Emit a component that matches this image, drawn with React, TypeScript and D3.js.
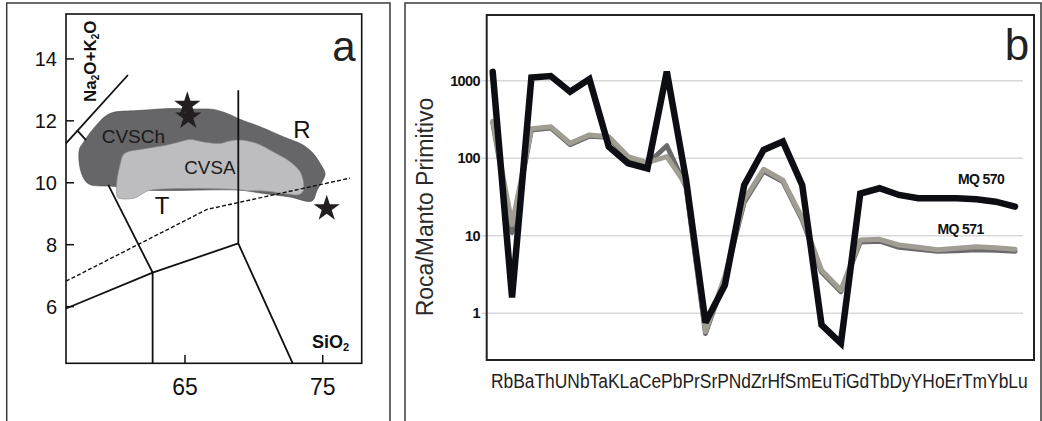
import React from "react";
import * as d3 from "d3";

// ---------- Panel b: spider diagram ----------
const elements = ["Rb","Ba","Th","U","Nb","Ta","K","La","Ce","Pb","Pr","Sr","P","Nd","Zr","Hf","Sm","Eu","Ti","Gd","Tb","Dy","Y","Ho","Er","Tm","Yb","Lu"];
const mq570 = [1300,1.6,1100,1150,720,1050,141,86,74,1310,52,0.76,2.3,45,128,164,45,0.71,0.41,35,41,33.6,30.5,30.5,30.5,29.5,27.5,23.8];
const mq571 = [300,14,240,255,156,200,190,105,88,105,45,0.58,3.0,29,72,52,17,3.6,2.0,8.8,9.0,7.6,7.1,6.6,6.9,7.2,7.0,6.7];
const mq571b = [290,11,232,246,150,192,186,100,85,145,42,0.55,2.8,27,68,50,16,3.4,1.9,8.3,8.5,7.1,6.7,6.3,6.4,6.6,6.5,6.3];
const logTicks = [1, 10, 100, 1000];

// ---------- Panel a: TAS diagram ----------
const silicaTicks = [65, 75];
const alkaliTicks = [6, 8, 10, 12, 14];
const cvschOutline: [number, number][] = [
  [58.83,11.99],[59.19,12.14],[59.77,12.27],[61.51,12.33],[64.13,12.40],[65.36,12.38],[67.03,12.37],
  [68.05,12.24],[68.99,12.05],[70.45,11.81],[72.12,11.49],[73.57,11.22],[74.30,10.95],[74.80,10.63],
  [75.17,10.30],[75.02,10.09],[74.59,9.76],[74.22,9.41],[72.63,9.54],[70.45,9.67],[68.99,9.76],
  [62.46,9.76],[59.70,9.89],[58.10,9.94],[57.67,10.12],[57.34,10.57],[57.34,11.09],[57.59,11.28],[58.10,11.61]
];
const cvsaOutline: [number, number][] = [
  [60.50,10.89],[60.86,11.00],[61.51,11.06],[62.24,11.11],[63.69,11.22],[64.85,11.35],[65.36,11.40],
  [66.31,11.32],[67.54,11.27],[68.27,11.35],[68.99,11.38],[70.23,11.27],[71.39,11.00],[72.63,10.68],
  [73.35,10.36],[73.61,9.99],[73.57,9.73],[73.28,9.62],[72.41,9.64],[70.95,9.73],[69.36,9.75],
  [68.85,9.78],[62.46,9.76],[61.88,9.64],[61.37,9.51],[60.13,9.52],[60.03,9.76],[60.06,10.09],[60.28,10.57]
];
const boundaryLines: [number, number][][] = [
  [[56.36,11.27],[60.86,13.48]],
  [[57.16,11.70],[57.81,11.38]],
  [[59.43,9.93],[62.65,7.10],[62.65,4.17]],
  [[56.36,5.94],[62.65,7.10],[68.87,8.04]],
  [[68.87,12.99],[68.87,8.04],[72.82,4.17]]
];
const dashedLine: [number, number][] = [[56.36,6.82],[66.60,9.14],[76.98,10.15]];
const stars: [number, number][] = [[65.17,12.51],[65.24,12.13],[75.29,9.17]];

export default function App() {
  // Panel a scales
  const xa = d3.scaleLinear().domain([56.36, 77.83]).range([66, 361.7]);
  const ya = d3.scaleLinear().domain([4.17, 15.45]).range([363.3, 14]);
  const area = d3.line<[number, number]>().x(d => xa(d[0])).y(d => ya(d[1])).curve(d3.curveCatmullRomClosed.alpha(0.5));
  const seg = d3.line<[number, number]>().x(d => xa(d[0])).y(d => ya(d[1]));
  const starPath = d3.symbol().type(d3.symbolStar).size(215)() as string;

  // Panel b scales
  const xb = d3.scalePoint<string>().domain(elements).range([492.7, 1015]);
  const yb = d3.scaleLog().domain([1, 1000]).range([313.3, 80.7]);
  const spider = (vals: number[]) =>
    d3.line<number>().x((_, i) => xb(elements[i]) as number).y(v => yb(v))(vals) as string;

  const sans = "'Liberation Sans', Arial, Helvetica, sans-serif";

  return (
    <svg width={1042} height={421} style={{ position: "absolute", left: 0, top: 0, background: "#fff" }} fontFamily={sans}>
      <rect x={0} y={0} width={1042} height={421} fill="#fff" />
      {/* outer frames */}
      <path d="M6.7,425 V3 H390 V425" fill="none" stroke="#3a3a3a" strokeWidth={1.5} />
      <path d="M405,425 V3 H1041 V425" fill="none" stroke="#3a3a3a" strokeWidth={1.5} />

      {/* ===== Panel a ===== */}
      <path d={area(cvschOutline) as string} fill="#666668" stroke="#4a4a4a" strokeWidth={0.6} />
      <path d={area(cvsaOutline) as string} fill="#bdbdbf" stroke="#8a8a8a" strokeWidth={0.6} />
      {boundaryLines.map((l, i) => (
        <path key={i} d={seg(l) as string} fill="none" stroke="#111" strokeWidth={1.8} />
      ))}
      <path d={seg(dashedLine) as string} fill="none" stroke="#111" strokeWidth={1.4} strokeDasharray="4,2.2" />
      {stars.map((s, i) => (
        <path key={i} d={starPath} transform={`translate(${xa(s[0])},${ya(s[1])})`} fill="#231f20" />
      ))}
      <text x={101.7} y={143.3} fontSize={19} fill="#1a1a1a">CVSCh</text>
      <text x={184.3} y={174.3} fontSize={18.8} fill="#1a1a1a">CVSA</text>
      <text x={302} y={138} fontSize={24} textAnchor="middle" fill="#111">R</text>
      <text x={162} y={214} fontSize={24} textAnchor="middle" fill="#111">T</text>
      <text x={344} y={61} fontSize={42} textAnchor="middle" fill="#222">a</text>
      <rect x={66} y={14} width={295.7} height={349.3} fill="none" stroke="#111" strokeWidth={1.6} />
      {alkaliTicks.map(t => (
        <g key={t}>
          <line x1={66} x2={74} y1={ya(t)} y2={ya(t)} stroke="#111" strokeWidth={1.5} />
          <text x={57} y={ya(t) + 7} fontSize={20} textAnchor="end" fill="#111">{t}</text>
        </g>
      ))}
      {silicaTicks.map(t => (
        <g key={t}>
          <line x1={xa(t)} x2={xa(t)} y1={363.3} y2={355} stroke="#111" strokeWidth={1.5} />
          <text x={xa(t)} y={395} fontSize={23} textAnchor="middle" fill="#111">{t}</text>
        </g>
      ))}
      <text transform="translate(96,102) rotate(-90)" fontSize={17} fontWeight="bold" fill="#111">
        Na<tspan fontSize={10} dy={3}>2</tspan><tspan dy={-3}>O+K</tspan><tspan fontSize={10} dy={3}>2</tspan><tspan dy={-3}>O</tspan>
      </text>
      <text x={312} y={347.5} fontSize={18} fontWeight="bold" fill="#111">
        SiO<tspan fontSize={11} dy={3}>2</tspan>
      </text>

      {/* ===== Panel b ===== */}
      {logTicks.map(t => (
        <g key={t}>
          <line x1={481.5} x2={1023} y1={yb(t)} y2={yb(t)} stroke="#d9d9d9" strokeWidth={1.5} />
          <text x={480} y={yb(t) + 5} fontSize={14.5} fontWeight="bold" textAnchor="end" fill="#111" letterSpacing={-0.6}>{t}</text>
        </g>
      ))}
      <path d={spider(mq571b)} fill="none" stroke="#6a6a6a" strokeWidth={5} strokeLinejoin="round" strokeLinecap="round" />
      <path d={spider(mq571)} fill="none" stroke="#a09d93" strokeWidth={5} strokeLinejoin="round" strokeLinecap="round" />
      <path d={spider(mq570)} fill="none" stroke="#0c0e13" strokeWidth={6.5} strokeLinejoin="miter" strokeMiterlimit={3} strokeLinecap="round" />
      <rect x={486.7} y={15} width={547.3} height={345} fill="none" stroke="#222" strokeWidth={2} />
      <text x={981} y={184} fontSize={14} fontWeight="bold" textAnchor="middle" fill="#111" letterSpacing={-0.6}>MQ 570</text>
      <text x={960.5} y={234} fontSize={14} fontWeight="bold" textAnchor="middle" fill="#111" letterSpacing={-0.6}>MQ 571</text>
      <text x={1017} y={60} fontSize={44} textAnchor="middle" fill="#222">b</text>
      <text transform="translate(433,207) rotate(-90)" fontSize={23} textAnchor="middle" fill="#2a2a2a">Roca/Manto Primitivo</text>
      <text transform="translate(491,388) scale(0.87,1)" fontSize={20} fill="#222">{elements.join("")}</text>
    </svg>
  );
}
